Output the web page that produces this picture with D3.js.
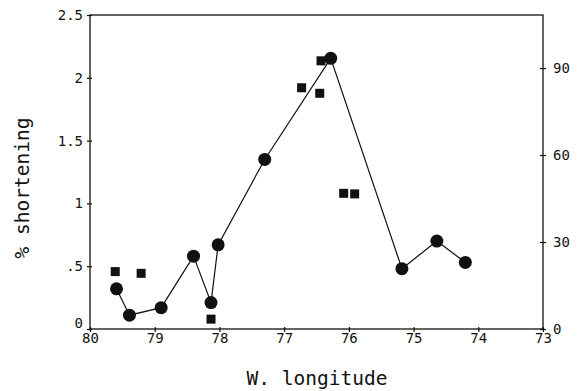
<!DOCTYPE html>
<html>
<head>
<meta charset="utf-8">
<script src="https://cdn.jsdelivr.net/npm/d3@7"></script>
<style>
  body { margin: 0; background: #fff; }
  text { font-family: "DejaVu Sans Mono", "Liberation Mono", monospace; fill: #111; }
</style>
</head>
<body>
<svg id="chart" width="583" height="391"></svg>
<script>
// circles joined by the line (left axis, % shortening)
var circleLon = [79.59, 79.39, 78.90, 78.40, 78.13, 78.02, 77.30, 76.28, 75.18, 74.64, 74.20];
var circleVal = [0.32, 0.11, 0.17, 0.58, 0.21, 0.67, 1.35, 2.155, 0.48, 0.70, 0.53];

// squares (right axis)
var squareLon = [79.61, 79.21, 78.13, 76.73, 76.45, 76.43, 76.08, 75.91];
var squareVal = [19.8, 19.2, 3.4, 83.2, 81.3, 92.5, 46.8, 46.6];

var xTicks = [80, 79, 78, 77, 76, 75, 74, 73];
var leftTicks = [0, 0.5, 1, 1.5, 2, 2.5];
var leftLabels = ['0', '.5', '1', '1.5', '2', '2.5'];
var rightTicks = [0, 30, 60, 90];

var margin = {left: 90, right: 40, top: 15, bottom: 62},
    width = 583 - margin.left - margin.right,
    height = 391 - margin.top - margin.bottom;

var svg = d3.select('#chart');
var g = svg.append('g').attr('transform', 'translate(' + margin.left + ',' + margin.top + ')');

var x = d3.scaleLinear().domain([80, 73]).range([0, width]);
var y = d3.scaleLinear().domain([0, 2.5]).range([height, 0]);
var y2 = d3.scaleLinear().domain([0, 108.3]).range([height, 0]);

// frame
g.append('rect')
  .attr('width', width).attr('height', height)
  .attr('fill', 'none').attr('stroke', '#111').attr('stroke-width', 1.3);

function styleAxis(sel) {
  sel.select('.domain').remove();
  sel.selectAll('line').attr('stroke', '#111').attr('stroke-width', 1.2);
  sel.selectAll('text').attr('font-size', '14px');
}

// bottom
var xAxis = g.append('g').attr('transform', 'translate(0,' + height + ')')
  .call(d3.axisBottom(x).tickValues(xTicks).tickSize(3).tickPadding(1).tickFormat(d3.format('d')));
styleAxis(xAxis);
xAxis.selectAll('line').attr('y1', -2);

// left
var yAxis = g.append('g')
  .call(d3.axisLeft(y).tickValues(leftTicks).tickSize(3).tickPadding(4)
    .tickFormat(function(d, i) { return leftLabels[i]; }));
styleAxis(yAxis);
yAxis.selectAll('line').attr('x1', 2);
yAxis.selectAll('.tick').filter(function(d) { return d === 0; })
  .select('text').attr('dy', '-0.1em');

// right
var y2Axis = g.append('g').attr('transform', 'translate(' + width + ',0)')
  .call(d3.axisRight(y2).tickValues(rightTicks).tickSize(3).tickPadding(7));
styleAxis(y2Axis);
y2Axis.selectAll('line').attr('x1', -3);

// line through circles
var pts = circleLon.map(function(d, i) { return [d, circleVal[i]]; });
g.append('path')
  .datum(pts)
  .attr('fill', 'none')
  .attr('stroke', '#111')
  .attr('stroke-width', 1.2)
  .attr('d', d3.line().x(function(d) { return x(d[0]); }).y(function(d) { return y(d[1]); }));

g.selectAll('.dot').data(pts).enter().append('circle')
  .attr('class', 'dot')
  .attr('cx', function(d) { return x(d[0]); })
  .attr('cy', function(d) { return y(d[1]); })
  .attr('r', 6.5)
  .attr('fill', '#111');

var sq = 9;
g.selectAll('.sq').data(squareLon).enter().append('rect')
  .attr('class', 'sq')
  .attr('x', function(d) { return x(d) - sq / 2; })
  .attr('y', function(d, i) { return y2(squareVal[i]) - sq / 2; })
  .attr('width', sq).attr('height', sq)
  .attr('fill', '#111');

// axis titles
svg.append('text')
  .attr('transform', 'translate(29,' + (margin.top + height / 2 + 16) + ') rotate(-90)')
  .attr('text-anchor', 'middle')
  .attr('font-size', '19.5px')
  .text('% shortening');

svg.append('text')
  .attr('x', 317)
  .attr('y', 385)
  .attr('text-anchor', 'middle')
  .attr('font-size', '19.5px')
  .text('W. longitude');
</script>
</body>
</html>
